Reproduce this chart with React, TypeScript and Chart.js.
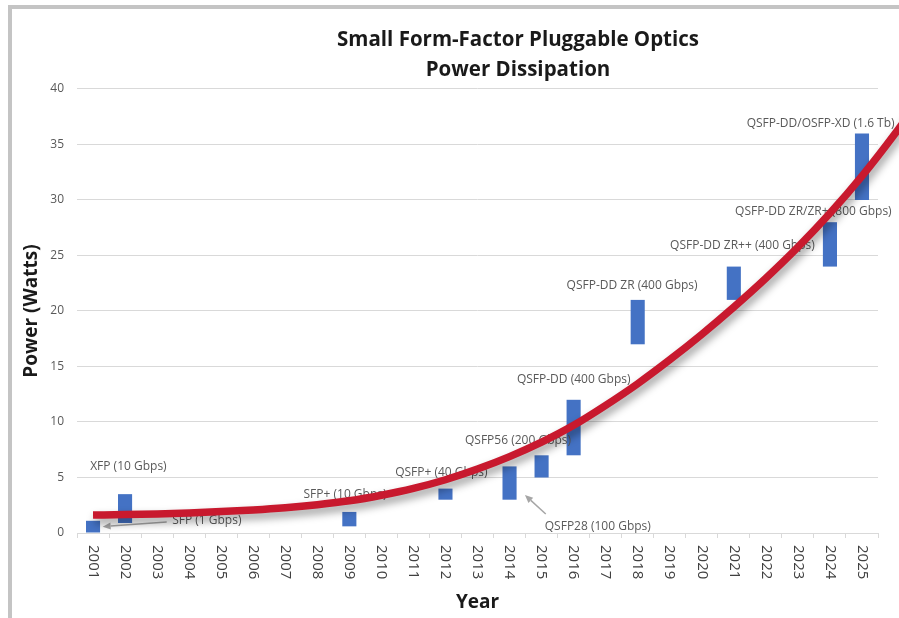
import React, { useEffect, useRef } from 'react';
import { Chart, registerables } from 'chart.js';

Chart.register(...registerables);

// ---------- data ----------
const years = [
  '2001', '2002', '2003', '2004', '2005', '2006', '2007', '2008', '2009', '2010',
  '2011', '2012', '2013', '2014', '2015', '2016', '2017', '2018', '2019', '2020',
  '2021', '2022', '2023', '2024', '2025',
];
// floating bar range (low / high watts); null = no module that year
const barLow = [0, 0.9, null, null, null, null, null, null, 0.6, null, null, 3, null, 3, 5, 7, null, 17, null, null, 21, null, null, 24, 30];
const barHigh = [1.1, 3.5, null, null, null, null, null, null, 1.9, null, null, 4, null, 6, 7, 12, null, 21, null, null, 24, null, null, 28, 36];

// trend line (year -> watts)
const trendYears = [2001, 2002, 2003, 2004, 2005, 2006, 2007, 2008, 2009, 2010, 2011, 2012, 2013, 2014, 2015, 2016, 2017, 2018, 2019, 2020, 2021, 2022, 2023, 2024, 2025, 2026, 2027];
const trendValues = [1.62, 1.66, 1.72, 1.81, 1.93, 2.08, 2.28, 2.55, 2.9, 3.4, 4.02, 4.8, 5.76, 6.88, 8.18, 9.7, 11.5, 13.45, 15.6, 17.9, 20.35, 22.95, 25.75, 28.8, 32.15, 35.85, 39.85];

// annotation labels (text, year position of left edge, watts at text centre)
const labelTexts = [
  'XFP (10 Gbps)', 'SFP (1 Gbps)', 'SFP+ (10 Gbps)', 'QSFP+ (40 Gbps)', 'QSFP56 (200 Gbps)',
  'QSFP28 (100 Gbps)', 'QSFP-DD (400 Gbps)', 'QSFP-DD ZR (400 Gbps)', 'QSFP-DD ZR++ (400 Gbps)',
  'QSFP-DD ZR/ZR+ (800 Gbps)', 'QSFP-DD/OSFP-XD (1.6 Tb)',
];
const labelYears = [2000.91, 2003.47, 2007.57, 2010.43, 2012.61, 2015.1, 2014.23, 2015.78, 2019.01, 2021.04, 2021.4];
const labelWatts = [6.0, 1.08, 3.5, 5.42, 8.3, 0.54, 13.78, 22.25, 25.86, 29.0, 36.85];

// callout arrows (from -> to, arrow head at "to")
const arrowFromYears = [2003.3, 2015.13];
const arrowFromWatts = [0.99, 1.71];
const arrowToYears = [2001.3, 2014.48];
const arrowToWatts = [0.57, 3.42];

const titleLines = ['Small Form-Factor Pluggable Optics', 'Power Dissipation'];

// ---------- styling ----------
const FONT = "'Open Sans', 'DejaVu Sans', sans-serif";
const W = 1036;
const H = 618;

const annotationPlugin = {
  id: 'annotations',
  afterDatasetDraw(chart: any, args: any) {
    if (args.index !== 0) return;
    const ctx = chart.ctx;
    const xs = chart.scales.x;
    const ys = chart.scales.y;
    ctx.save();
    ctx.font = `12px ${FONT}`;
    ctx.fillStyle = '#595959';
    ctx.textAlign = 'left';
    ctx.textBaseline = 'middle';
    labelTexts.forEach((t, i) => {
      ctx.fillText(t, xs.getPixelForValue(labelYears[i]), ys.getPixelForValue(labelWatts[i]));
    });
    ctx.strokeStyle = '#a6a6a6';
    ctx.fillStyle = '#a6a6a6';
    ctx.lineWidth = 1.5;
    arrowFromYears.forEach((_, i) => {
      const x1 = xs.getPixelForValue(arrowFromYears[i]);
      const y1 = ys.getPixelForValue(arrowFromWatts[i]);
      const x2 = xs.getPixelForValue(arrowToYears[i]);
      const y2 = ys.getPixelForValue(arrowToWatts[i]);
      const a = Math.atan2(y2 - y1, x2 - x1);
      const hl = 8;
      const hw = 3.5;
      const bx = x2 - hl * Math.cos(a);
      const by = y2 - hl * Math.sin(a);
      ctx.beginPath();
      ctx.moveTo(x1, y1);
      ctx.lineTo(bx, by);
      ctx.stroke();
      ctx.beginPath();
      ctx.moveTo(x2, y2);
      ctx.lineTo(bx + hw * Math.sin(a), by - hw * Math.cos(a));
      ctx.lineTo(bx - hw * Math.sin(a), by + hw * Math.cos(a));
      ctx.closePath();
      ctx.fill();
    });
    ctx.restore();
  },
};

const shadowPlugin = {
  id: 'trendShadow',
  beforeDatasetDraw(chart: any, args: any) {
    if (args.index !== 1) return;
    const ctx = chart.ctx;
    ctx.save();
    ctx.shadowColor = 'rgba(0,0,0,0.4)';
    ctx.shadowBlur = 8;
    ctx.shadowOffsetX = 2;
    ctx.shadowOffsetY = 5;
  },
  afterDatasetDraw(chart: any, args: any) {
    if (args.index !== 1) return;
    chart.ctx.restore();
  },
};

const xLabelPlugin = {
  id: 'xLabels',
  afterDraw(chart: any) {
    const ctx = chart.ctx;
    const xs = chart.scales.x;
    ctx.save();
    ctx.font = `15px ${FONT}`;
    ctx.fillStyle = '#404040';
    ctx.textAlign = 'left';
    ctx.textBaseline = 'middle';
    years.forEach((lab) => {
      const px = xs.getPixelForValue(+lab);
      ctx.save();
      ctx.translate(px, xs.top + 12);
      ctx.rotate(Math.PI / 2);
      ctx.fillText(lab, 0, 0);
      ctx.restore();
    });
    ctx.restore();
  },
};

export default function App() {
  const ref = useRef<HTMLCanvasElement | null>(null);

  useEffect(() => {
    if (!ref.current) return;
    const barData: any[] = [];
    years.forEach((y, i) => {
      if (barLow[i] !== null && barHigh[i] !== null) {
        barData.push({ x: +y, y: [barLow[i], barHigh[i]] });
      }
    });
    const trendData = trendYears.map((y, i) => ({ x: y, y: trendValues[i] }));
    const xMin = +years[0] - 0.5;
    const xMax = +years[years.length - 1] + 0.5;

    const chart = new Chart(ref.current, {
      type: 'bar',
      data: {
        datasets: [
          {
            type: 'bar',
            label: 'Power',
            data: barData,
            backgroundColor: '#4472C4',
            borderWidth: 0,
            barPercentage: 0.44,
            categoryPercentage: 1,
            xAxisID: 'x',
            yAxisID: 'y',
            order: 1,
          },
          {
            type: 'line',
            label: 'Trend',
            data: trendData,
            borderColor: '#C8192E',
            borderWidth: 7.5,
            pointRadius: 0,
            fill: false,
            cubicInterpolationMode: 'monotone',
            xAxisID: 'x',
            yAxisID: 'y',
            clip: false,
            order: 0,
          },
        ],
      } as any,
      options: {
        responsive: false,
        animation: false,
        devicePixelRatio: 1,
        layout: { padding: 0 },
        plugins: {
          legend: { display: false },
          tooltip: { enabled: false },
          title: {
            display: true,
            text: titleLines,
            color: '#1a1a1a',
            font: { family: FONT, size: 20.5, weight: 'bold', lineHeight: 1.463 },
            padding: { top: 25, bottom: 4 },
          },
        },
        scales: {
          x: {
            type: 'linear',
            position: 'bottom',
            bounds: 'data',
            offset: false,
            afterDataLimits: (s: any) => {
              s.min = xMin;
              s.max = xMax;
            },
            afterBuildTicks: (s: any) => {
              s.ticks = years.map((y) => ({ value: +y }));
            },
            grid: {
              display: true,
              drawOnChartArea: false,
              drawTicks: true,
              tickLength: 5,
              color: '#d9d9d9',
              offset: true,
            },
            border: { display: true, color: '#d9d9d9' },
            ticks: { display: false },
            title: {
              display: true,
              text: 'Year',
              color: '#1a1a1a',
              font: { family: FONT, size: 19, weight: 'bold' },
              padding: { top: 0, bottom: 3.6 },
            },
            afterFit: (s: any) => {
              s.height = 85;
            },
          },
          y: {
            type: 'linear',
            position: 'left',
            min: 0,
            max: 40,
            ticks: {
              stepSize: 5,
              padding: 13,
              color: '#595959',
              font: { family: FONT, size: 12 },
            },
            grid: { color: '#d9d9d9', drawTicks: false, lineWidth: 1 },
            border: { display: false },
            title: {
              display: true,
              text: 'Power (Watts)',
              color: '#1a1a1a',
              font: { family: FONT, size: 19, weight: 'bold' },
              padding: { top: 20.6, bottom: 0 },
            },
            afterFit: (s: any) => {
              s.width = 77;
            },
          },
          yr: {
            type: 'linear',
            position: 'right',
            display: true,
            min: 0,
            max: 40,
            grid: { display: false, drawTicks: false },
            ticks: { display: false },
            border: { display: false },
            afterFit: (s: any) => {
              s.width = W - 878;
            },
          },
        },
      } as any,
      plugins: [annotationPlugin, shadowPlugin, xLabelPlugin],
    });
    return () => chart.destroy();
  }, []);

  return (
    <div
      style={{
        position: 'fixed',
        left: 0,
        top: 0,
        width: 899,
        height: 618,
        overflow: 'hidden',
        background: '#ffffff',
      }}
    >
      <div
        style={{
          position: 'absolute',
          left: 8,
          top: 5,
          width: 2000,
          height: 2000,
          borderLeft: '4px solid #c4c4c4',
          borderTop: '4px solid #c4c4c4',
        }}
      />
      <canvas
        ref={ref}
        width={W}
        height={H}
        style={{ position: 'absolute', left: 0, top: 0, width: W, height: H }}
      />
    </div>
  );
}
